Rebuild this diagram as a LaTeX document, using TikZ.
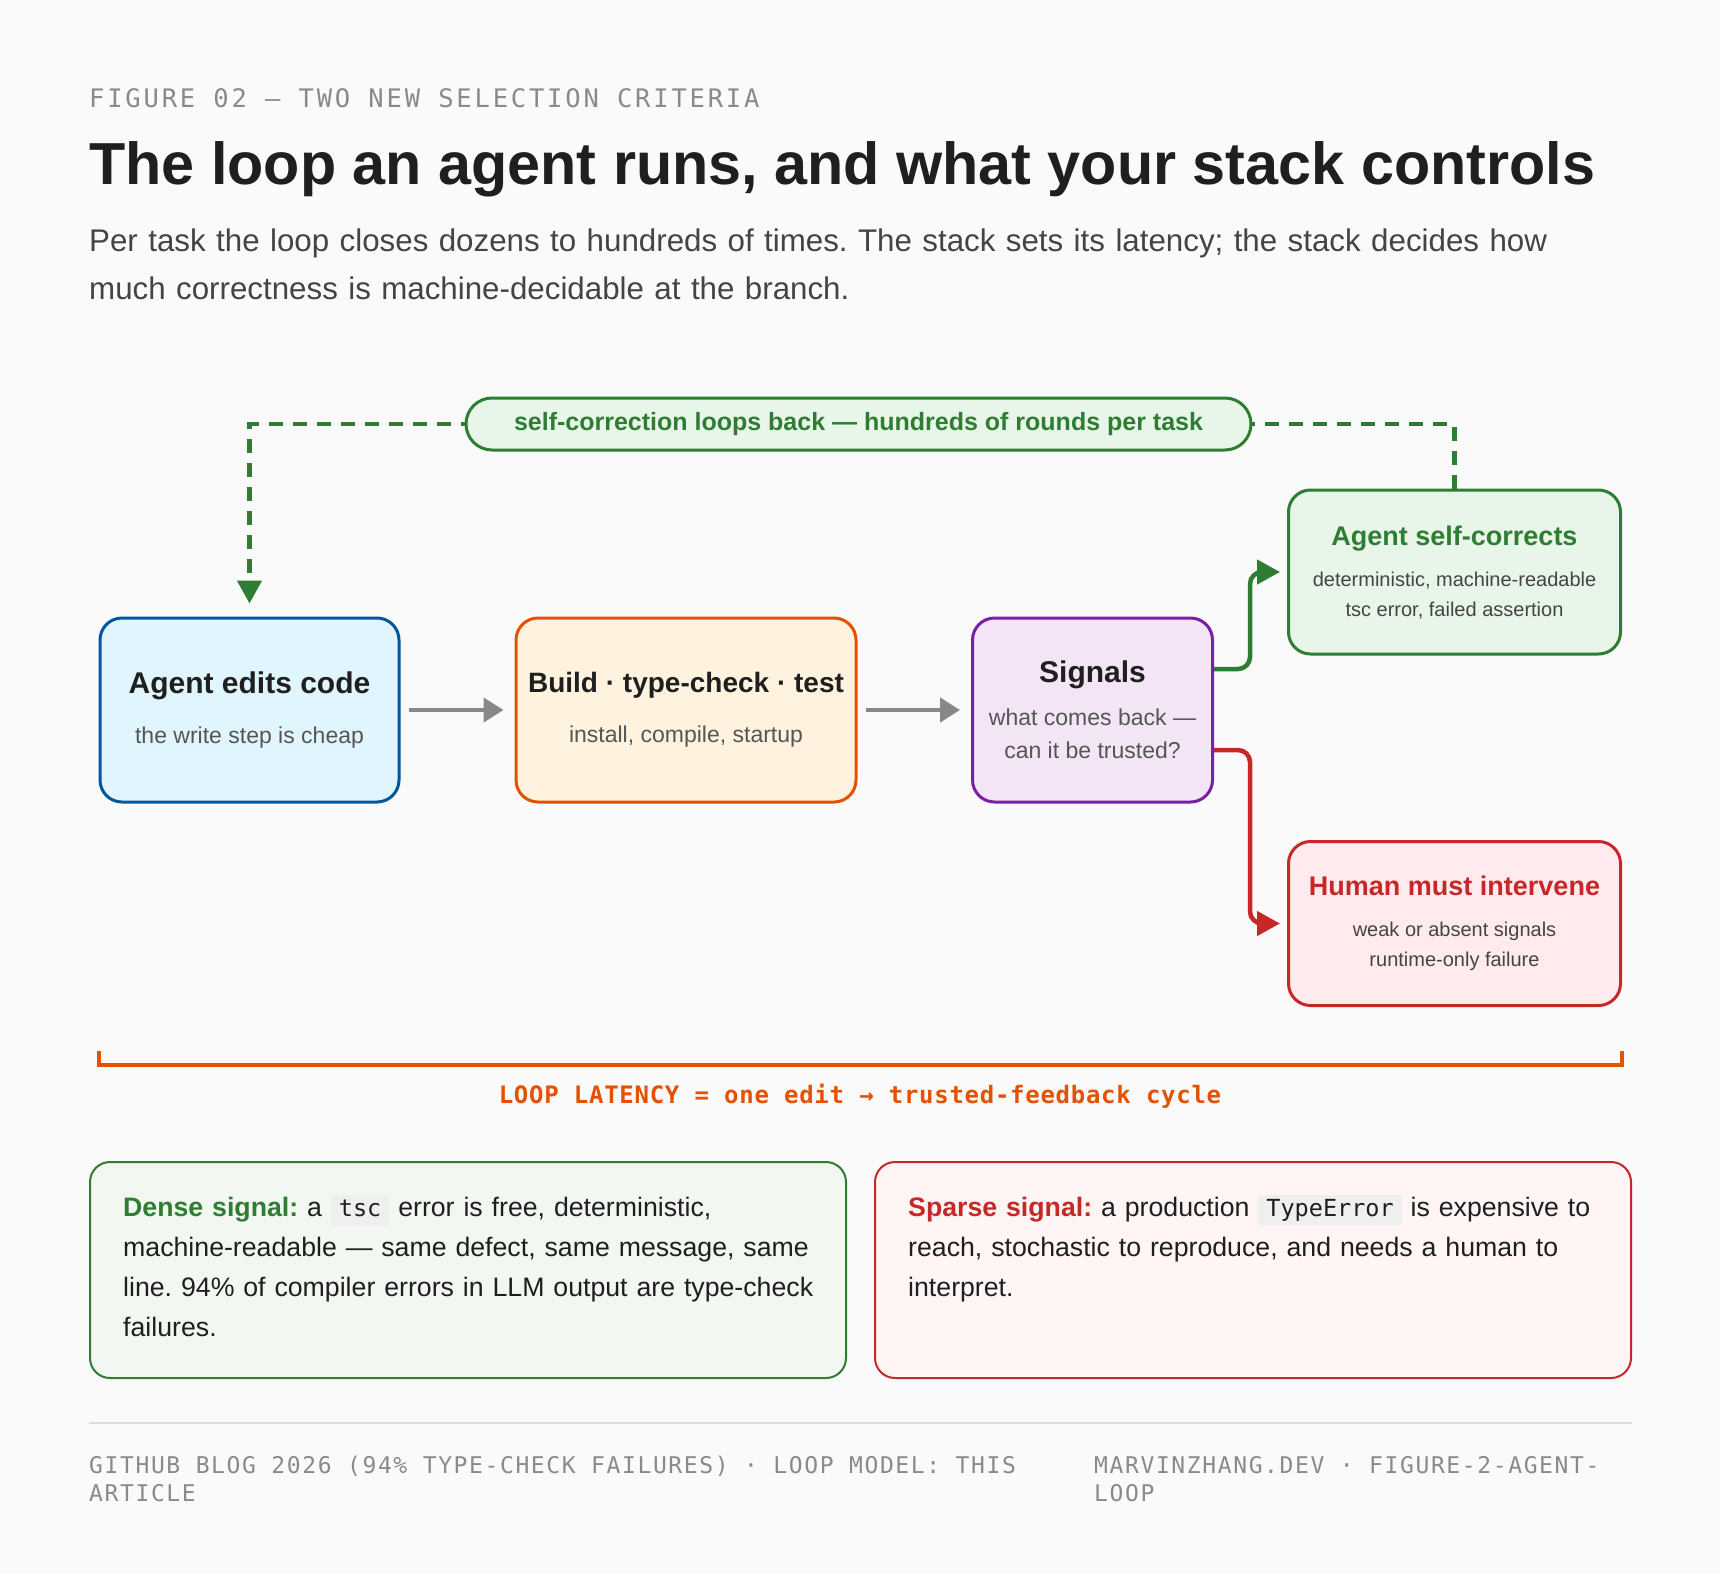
\documentclass[tikz,border=0pt]{standalone}
\usepackage{fontspec}
\setmainfont{Liberation Sans}
\newfontfamily\labelmono[LetterSpace=11]{DejaVu Sans Mono}
\newfontfamily\footmono[LetterSpace=7]{DejaVu Sans Mono}
\newfontfamily\latencymono[LetterSpace=3]{DejaVu Sans Mono}
\newfontfamily\codemono{DejaVu Sans Mono}
\usetikzlibrary{arrows.meta,positioning}
\frenchspacing

\definecolor{paper}{HTML}{FAFAFA}
\definecolor{ink}{HTML}{1F1F1F}
\definecolor{inksoft}{HTML}{444444}
\definecolor{inkmute}{HTML}{555555}
\definecolor{labelgray}{HTML}{8A8A8A}
\definecolor{flowgray}{HTML}{888888}
\definecolor{editline}{HTML}{01579B}
\definecolor{editfill}{HTML}{E1F5FE}
\definecolor{buildline}{HTML}{E65100}
\definecolor{buildfill}{HTML}{FFF3E0}
\definecolor{sigline}{HTML}{7B1FA2}
\definecolor{sigfill}{HTML}{F3E5F5}
\definecolor{okline}{HTML}{2E7D32}
\definecolor{okfill}{HTML}{E8F5E9}
\definecolor{okpale}{HTML}{F2F8F1}
\definecolor{badline}{HTML}{C62828}
\definecolor{badfill}{HTML}{FFEBEE}
\definecolor{badpale}{HTML}{FFF5F5}
\definecolor{codebg}{HTML}{EFEFEF}
\definecolor{rulegray}{HTML}{DDDDDD}

\newcommand{\px}[2]{\fontsize{#1}{#2}\selectfont}
\newcommand{\codebit}[1]{{\setlength{\fboxsep}{4pt}\colorbox{codebg}{\hspace{4pt}\codemono\px{23.5}{28}\vphantom{Ty}#1\hspace{4pt}}}}

\begin{document}
\begin{tikzpicture}[x=1pt, y=-1pt, >=Stealth,
    every node/.style={inner sep=0pt},
    stepbox/.style={draw, rounded corners=22pt, line width=3pt, align=center,
                    minimum height=184pt, font=\px{23}{33}, text=inkmute},
    sidebox/.style={draw, rounded corners=22pt, line width=3pt, align=center,
                    minimum width=332pt, minimum height=164pt, font=\px{20}{30}, text=inksoft},
    pillbox/.style={draw=okline, fill=okfill, line width=3pt, rounded corners=26pt,
                    minimum width=785pt, minimum height=52pt, text=okline, font=\px{25}{30}\bfseries},
    notebox/.style={rounded corners=20pt, line width=2pt, minimum width=756pt, minimum height=216pt},
    notetext/.style={text width=740pt, align=left, font=\px{26.7}{40}, text=ink},
    flow/.style={draw=flowgray, line width=4.5pt, -{Triangle[length=20pt,width=24pt]}},
    branch/.style={line width=4.5pt, rounded corners=12pt, -{Triangle[length=23pt,width=24pt]}},
    loopback/.style={draw=okline, line width=4.5pt, dash pattern=on 14pt off 10pt}]

  % Page
  \fill[paper] (0,0) rectangle (1720,1574);
  \useasboundingbox (0,0) rectangle (1720,1574);

  % Heading
  \node[anchor=base west, font=\labelmono\px{25.5}{30}, text=labelgray] (figlabel) at (89,107.5)
    {FIGURE 02 — TWO NEW SELECTION CRITERIA};
  \node[anchor=base west, font=\px{59.3}{66}\bfseries, text=ink] (headline) at (89,184)
    {The loop an agent runs, and what your stack controls};
  \node[anchor=north west, text width=1580pt, align=left, font=\px{31.3}{48}, text=inksoft] (standfirst) at (89,217.4)
    {\strut Per task the loop closes dozens to hundreds of times. The stack sets its latency; the stack decides how\\
     much correctness is machine-decidable at the branch.};

  % Loop steps
  \node[stepbox, draw=editline, fill=editfill, minimum width=299pt] (edit) at (249.5,710)
    {{\px{30}{33}\bfseries\color{ink}Agent edits code}\\[17pt]the write step is cheap};

  \node[stepbox, draw=buildline, fill=buildfill, minimum width=340pt, right=114pt of edit] (build)
    {{\px{28}{33}\bfseries\color{ink}Build · type-check · test}\\[17pt]install, compile, startup};

  \node[stepbox, draw=sigline, fill=sigfill, minimum width=240pt, right=113.5pt of build] (signals)
    {{\px{30}{33}\bfseries\color{ink}Signals}\\[10pt]what comes back —\\can it be trusted?};

  \node[sidebox, draw=okline, fill=okfill, right=73pt of signals, yshift=138pt] (selfc)
    {{\px{27}{30}\bfseries\color{okline}Agent self-corrects}\\[11pt]deterministic, machine-readable\\tsc error, failed assertion};

  \node[sidebox, draw=badline, fill=badfill, right=73pt of signals, yshift=-213.5pt] (human)
    {{\px{27}{30}\bfseries\color{badline}Human must intervene}\\[11pt]weak or absent signals\\runtime-only failure};

  % Self-correction loop
  \draw[loopback] (selfc.north) |- (858.5,424);
  \draw[loopback, -{Triangle[length=23pt,width=24pt]}] (858.5,424) -| ([yshift=13pt]edit.north);
  \node[pillbox] (pill) at (858.5,424) {self-correction loops back — hundreds of rounds per task};

  % Flow
  \draw[flow, shorten <=8pt, shorten >=11pt] (edit) -- (build);
  \draw[flow, shorten <=8pt, shorten >=11pt] (build) -- (signals);
  \draw[branch, color=okline] ([yshift=41pt]signals.east) -- ++(36,0) |- ([xshift=-7pt]selfc.west);
  \draw[branch, color=badline] ([yshift=-40pt]signals.east) -- ++(36,0) |- ([xshift=-7pt]human.west);

  % Latency bracket
  \draw[buildline, line width=4pt] (edit.west |- 0,1051) |- (selfc.east |- 0,1065) -- (selfc.east |- 0,1051);
  \node[font=\latencymono\px{24}{28}\bfseries, text=buildline] (latency) at (860,1096)
    {LOOP LATENCY = one edit → trusted-feedback cycle};

  % Dense vs sparse
  \node[notebox, draw=okline, fill=okpale, anchor=north west] (dense) at (89,1161) {};
  \node[notebox, draw=badline, fill=badpale, right=27pt of dense] (sparse) {};
  \node[notetext, anchor=north west] (densetxt) at ([xshift=34pt, yshift=-27pt]dense.north west)
    {\strut{\color{okline}\bfseries Dense signal:} a \codebit{tsc} error is free, deterministic,\\
     machine-readable — same defect, same message, same\\
     line. 94\% of compiler errors in LLM output are type-check\\
     failures.};
  \node[notetext, anchor=north west] (sparsetxt) at ([xshift=34pt, yshift=-27pt]sparse.north west)
    {\strut{\color{badline}\bfseries Sparse signal:} a production \codebit{TypeError} is expensive to\\
     reach, stochastic to reproduce, and needs a human to\\
     interpret.};

  % Footer
  \draw[rulegray, line width=2pt] (dense.west |- 0,1423) -- (sparse.east |- 0,1423);
  \node[anchor=north west, align=left, font=\footmono\px{23}{28}, text=labelgray] (source) at (89,1453.4)
    {\strut GITHUB BLOG 2026 (94\% TYPE-CHECK FAILURES) · LOOP MODEL: THIS\\ARTICLE};
  \node[anchor=north west, align=left, font=\footmono\px{23}{28}, text=labelgray] (credit) at (1094,1453.4)
    {\strut MARVINZHANG.DEV · FIGURE-2-AGENT-\\LOOP};
\end{tikzpicture}
\end{document}
